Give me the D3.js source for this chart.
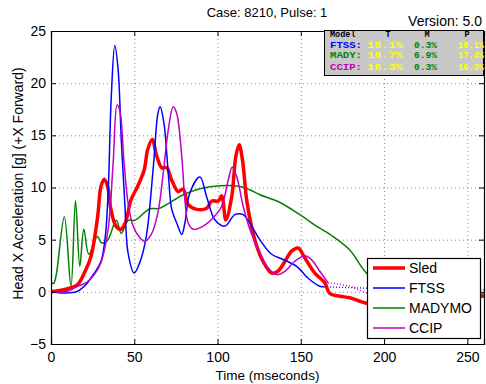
<!DOCTYPE html>
<html><head><meta charset="utf-8">
<script src="https://cdn.jsdelivr.net/npm/d3@7"></script>
<style>body{margin:0;background:#fff}svg{display:block}</style>
</head><body><svg id="c" width="486" height="384"></svg>
<script>
const sledT=[0,10,16,20,24,28,30,32,34,36,39,42,44.6,48,52,56,58,60.8,63.5,66.5,69.5,72.5,76.4,79.4,82.4,87.5,93.5,96.5,100.4,102.5,105,108.5,111,113,115,117.5,120.5,123.5,127.4,132.5,136.4,140.4,144.5,148.4,152.4,158.4,164.4,167.4,173.4,179.4,189.4,200,230,260];
const sledV=[0,0.3,0.7,1.8,3.4,7.2,10.1,10.8,10.1,7.9,6.3,6.0,6.6,8.8,10.1,11.7,13.6,14.6,13.0,11.9,11.9,10.7,9.6,9.85,8.35,7.9,8.0,8.7,8.7,9.2,6.9,9.1,13.0,14.1,12.6,8.8,6.2,4.4,2.9,1.8,2.0,2.9,3.9,4.2,3.25,1.8,0.86,-0.16,-0.42,-0.57,-1.1,-1.2,-0.8,-0.4];
const ftssT=[0,6,11,16,21,26,30,32.6,34.3,36.2,38.3,40.3,42.2,44.3,46.3,49.9,53.3,57.2,61.3,64.2,65.5,67.8,70.4,72.5,75.5,78.5,80.4,83.4,89.4,93.5,98.4,104.4,110.4,115.4,120.5,125.4,132.5,139.4,147.5,154.4,161.4,164];
const ftssV=[0,-0.1,-0.1,0.06,0.7,1.8,2.9,5.3,9.5,18.7,23.6,21.3,14.6,8.5,3.7,1.8,2.8,5.3,11.7,17.1,17.75,16.2,11.4,7.9,6.6,5.5,6.6,9.5,11.0,9.1,6.9,6.3,7.4,7.4,6.3,5.0,3.6,3.1,2.45,1.3,0.54,0.48];
const ftssDotT=[164,170,180,189.4,200,230,260];
const ftssDotV=[0.48,0.45,0.4,0.35,0.3,0.3,0.2];
const madyT=[0,1.5,3,8,12,14.7,17.3,19.7,22.7,27.9,30.3,33.8,39.2,42.2,46.3,50.3,59.4,65,79.4,90,101.4,113.4,119.4,125.4,136.4,149.4,159.4,169.4,179.4,189.4,200,215,230,260];
const madyV=[0.9,0.8,1.5,7.2,0.5,8.7,2.45,6.0,3.6,5.3,4.7,4.9,6.85,5.6,6.85,6.85,7.96,8.0,9.3,9.9,10.16,10.1,9.78,9.3,8.66,7.4,6.3,5.3,4.0,1.8,0.5,0,-0.2,-0.2];
const ccipT=[0,10,16,21,26,30,34.3,37.3,39.7,41.3,43.9,46.3,49.3,53.3,56.3,60.2,64.2,67.4,70.4,73.4,75.5,78.5,80.4,82.4,85.4,91.4,97.4,102.5,106.4,108.8,111.5,115.4,119.4,123.5,129.5,135.5,140.4,146.4,152.4,156.4,161.4,166.4];
const ccipV=[0,0.06,0.54,0.86,1.65,2.8,6.0,12.3,17.9,17.4,12.3,8.5,6.3,5.2,4.84,5.5,7.6,11.4,15.5,17.75,17.1,13.0,8.8,6.6,6.0,6.3,7.1,8.2,10.7,11.95,11.05,8.2,6.0,4.4,2.45,1.65,1.97,2.93,3.47,3.09,1.97,0.86];
const ccipDotT=[166.4,179.4,189.4,200,230,260];
const ccipDotV=[0.86,0.54,-0.1,-0.3,-0.5,-0.5];
const xTicks=[0,50,100,150,200,250];
const yTicks=[-5,0,5,10,15,20,25];
const legendNames=["Sled","FTSS","MADYMO","CCIP"];
const colors=["#ff0000","#0000ff","#008000","#bf00bf"];
const tableHead=["Model","T","M","P"];
const tableRows=[["FTSS:","18.1%","0.3%","18.1%"],["MADY:","18.7%","6.9%","17.4%"],["CCIP:","16.3%","0.3%","16.3%"]];

const svg=d3.select("#c");
const L=51,R=484,T=31,B=344;
const x=d3.scaleLinear().domain([0,260]).range([L,R]);
const y=d3.scaleLinear().domain([-5,25]).range([B,T]);
const font="Liberation Sans, Arial, sans-serif";

// grid
const g=svg.append("g");
g.selectAll(".gx").data(xTicks.filter(d=>d>0)).join("line")
 .attr("x1",d=>x(d)+0.5).attr("x2",d=>x(d)+0.5).attr("y1",T).attr("y2",B)
 .attr("stroke","#888").attr("stroke-dasharray","1,3");
g.selectAll(".gy").data(yTicks.filter(d=>d>-5&&d<25)).join("line")
 .attr("y1",d=>y(d)+0.5).attr("y2",d=>y(d)+0.5).attr("x1",L).attr("x2",R)
 .attr("stroke","#888").attr("stroke-dasharray","1,3");

// lines
const line=d3.line().x(d=>x(d[0])).y(d=>y(d[1])).curve(d3.curveCatmullRom.alpha(0.5));
const zip=(a,b)=>a.map((t,i)=>[t,b[i]]);
svg.append("clipPath").attr("id","cp").append("rect").attr("x",L).attr("y",T).attr("width",R-L+2).attr("height",B-T);
const lg=svg.append("g").attr("clip-path","url(#cp)");
lg.append("path").attr("d",line(zip(madyT,madyV))).attr("fill","none").attr("stroke",colors[2]).attr("stroke-width",1.5);
lg.append("path").attr("d",line(zip(ftssDotT,ftssDotV))).attr("fill","none").attr("stroke",colors[1]).attr("stroke-width",1.3).attr("stroke-dasharray","1,2");
lg.append("path").attr("d",line(zip(ccipDotT,ccipDotV))).attr("fill","none").attr("stroke",colors[3]).attr("stroke-width",1.3).attr("stroke-dasharray","1,2");
lg.append("path").attr("d",line(zip(sledT,sledV))).attr("fill","none").attr("stroke",colors[0]).attr("stroke-width",3.5).attr("stroke-linejoin","round");
lg.append("path").attr("d",line(zip(ftssT,ftssV))).attr("fill","none").attr("stroke",colors[1]).attr("stroke-width",1.5);
lg.append("path").attr("d",line(zip(ccipT,ccipV))).attr("fill","none").attr("stroke",colors[3]).attr("stroke-width",1.5);

// axes
const ax=svg.append("g").attr("transform",`translate(0,${B})`).call(d3.axisBottom(x).tickValues(xTicks).tickSize(-5).tickPadding(8));
const ax2=svg.append("g").attr("transform",`translate(0,${T})`).call(d3.axisTop(x).tickValues(xTicks).tickSize(-5).tickFormat(""));
const ay=svg.append("g").attr("transform",`translate(${L},0)`).call(d3.axisLeft(y).tickValues(yTicks).tickSize(-5).tickPadding(5));
const ay2=svg.append("g").attr("transform",`translate(${R},0)`).call(d3.axisRight(y).tickValues(yTicks).tickSize(-5).tickFormat(""));
[ax,ax2,ay,ay2].forEach(a=>{a.select(".domain").attr("stroke","#000").attr("stroke-width",1.2);a.selectAll(".tick line").attr("stroke","#000");a.selectAll("text").attr("font-family",font).attr("font-size",14).attr("fill","#000");});

// labels
svg.append("text").attr("x",(L+R)/2).attr("y",B+36).attr("text-anchor","middle").attr("font-family",font).attr("font-size",13.5).text("Time (mseconds)");
svg.append("text").attr("transform",`translate(23,${(T+B)/2-4}) rotate(-90)`).attr("text-anchor","middle").attr("font-family",font).attr("font-size",14).text("Head X Acceleration [g] (+X Forward)");
svg.append("text").attr("x",267).attr("y",17).attr("text-anchor","middle").attr("font-family",font).attr("font-size",13).text("Case: 8210, Pulse: 1");
svg.append("text").attr("x",482).attr("y",26).attr("text-anchor","end").attr("font-family",font).attr("font-size",14).text("Version: 5.0");

// table
const tb=svg.append("g");
tb.append("rect").attr("x",324.5).attr("y",30.5).attr("width",159).attr("height",45).attr("fill","#c8c8c8").attr("stroke","#000").attr("stroke-width",1);
const mono="Liberation Mono, DejaVu Sans Mono, monospace";
const headX=[330,388,427,467];
tableHead.forEach((h,i)=>tb.append("text").attr("x",headX[i]).attr("y",36.5).attr("font-family",mono).attr("font-weight","bold").attr("font-size",8.5).attr("fill","#000").attr("text-anchor",i==0?"start":"middle").text(h));
const rowY=[47.5,58,70];
const colStart=[330,367,414,458];
const colLen=[32,36,23,26];
const rowColors=[colors[1],colors[2],colors[3]];
tableRows.forEach((r,j)=>{
  r.forEach((c,i)=>{
    tb.append("text").attr("x",colStart[i]).attr("y",rowY[j]).attr("font-family",mono).attr("font-weight","bold").attr("font-size",9)
      .attr("textLength",colLen[i]).attr("lengthAdjust","spacingAndGlyphs")
      .attr("fill",i==0?rowColors[j]:(i==2?"#008000":"#ffff00")).text(c);
  });
});

// legend
const lgd=svg.append("g");
lgd.append("rect").attr("x",367.5).attr("y",258.5).attr("width",113).attr("height",80).attr("fill","#fff").attr("stroke","#000").attr("stroke-width",1.2);
const ly=[268,288,308,328];
legendNames.forEach((n,i)=>{
  lgd.append("line").attr("x1",373).attr("x2",405).attr("y1",ly[i]).attr("y2",ly[i]).attr("stroke",colors[i]).attr("stroke-width",i==0?3.5:1.5);
  lgd.append("text").attr("x",409).attr("y",ly[i]+5).attr("font-family",font).attr("font-size",14).text(n);
});
</script></body></html>
